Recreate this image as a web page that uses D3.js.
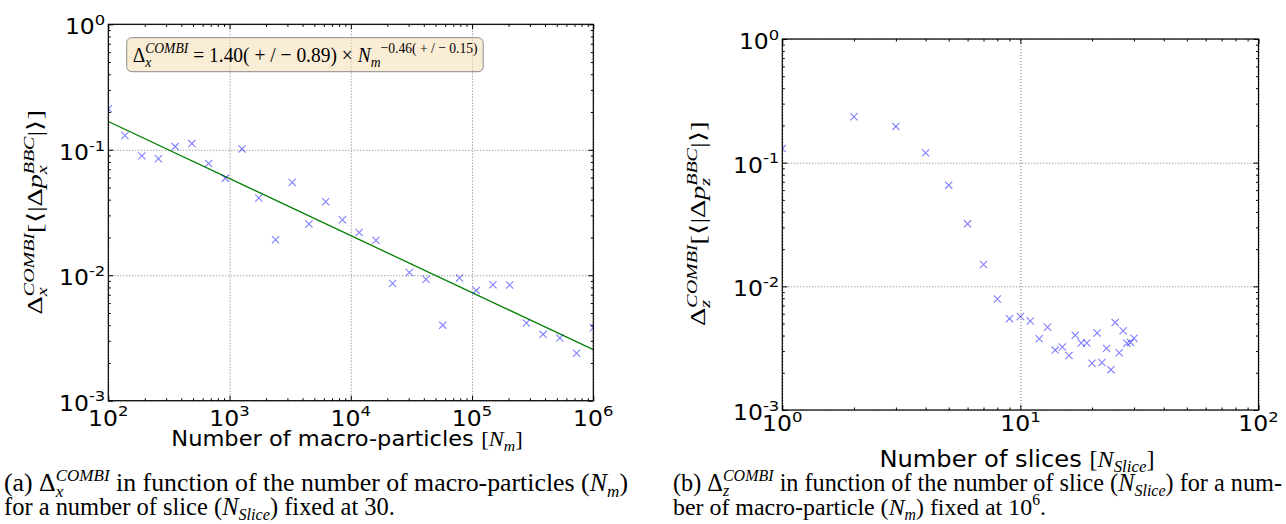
<!DOCTYPE html>
<html>
<head>
<meta charset="utf-8">
<script src="https://cdn.jsdelivr.net/npm/d3@7/dist/d3.min.js"></script>
<style>
  body { margin: 0; background: #fff; }
  svg { display: block; }
  text { white-space: pre; }
</style>
</head>
<body>
<div id="fig"></div>
<script>
(function () {
    // panel (a): error vs number of macro-particles (N_slice = 30)
    const nMacro = [100, 137, 189, 259, 356, 489, 672, 924, 1269, 1743, 2395, 3290, 4520, 6210, 8531,
        11720, 16102, 22121, 30390, 41751, 57358, 78800, 108258, 148727, 204324, 280706, 385642,
        529807, 727864, 1000000];
    const deltaX = [0.212, 0.130, 0.0894, 0.0847, 0.106, 0.112, 0.0777, 0.0594, 0.1016, 0.0412,
        0.0192, 0.0548, 0.0256, 0.0385, 0.0277, 0.0219, 0.0190, 0.0086, 0.0105, 0.0093,
        0.0040, 0.0095, 0.00757, 0.00839, 0.00835, 0.00416, 0.00338, 0.00316, 0.00239, 0.00382];
    // green fit line, end points
    const fitN = [100, 1000000];
    const fitDelta = [0.168, 0.00255];

    // panel (b): error vs number of slices (N_m = 1e6)
    const nSlice = [1, 2, 3, 4, 5, 6, 7, 8, 9, 10, 11, 12, 13, 14, 15, 16, 17, 18, 19, 20,
        21, 22, 23, 24, 25, 26, 27, 28, 29, 30];
    const deltaZ = [0.130, 0.235, 0.1965, 0.120, 0.0658, 0.0320, 0.0150, 0.00789, 0.00548, 0.00570,
        0.00525, 0.00377, 0.00467, 0.00305, 0.00323, 0.00276, 0.00402, 0.00348, 0.00348, 0.00239,
        0.00419, 0.00242, 0.00315, 0.00212, 0.00509, 0.00290, 0.00438, 0.00346, 0.00352, 0.00380];

    const xTicksA = [1e2, 1e3, 1e4, 1e5, 1e6];
    const xExpA = ['2', '3', '4', '5', '6'];
    const xTicksB = [1, 10, 100];
    const xExpB = ['0', '1', '2'];
    const yTicks = [1e-3, 1e-2, 1e-1, 1];
    const yExp = ['-3', '-2', '-1', '0'];

    const SANS = 'DejaVu Sans';
    const SERIF = 'Liberation Serif';

    const svg = d3.select('#fig')
        .append('svg')
            .attr('width', 1286)
            .attr('height', 524);

    // writes a run of text pieces with sub/superscripts, returns the width
    function richText(g, parts, fs, fam, scr) {
        let cx = 0;
        const put = (txt, x, y, size, it, f) => {
            const t = g.append('text')
                .attr('x', x)
                .attr('y', y)
                .style('font-family', f)
                .style('font-size', size + 'px')
                .style('font-style', it ? 'italic' : 'normal')
                .text(txt);
            return t.node().getComputedTextLength();
        };
        parts.forEach(p => {
            const f = p.fam || fam;
            if (p.t) cx += put(p.t, cx, 0, fs, p.it, f);
            let w = 0;
            if (p.sup) w = Math.max(w, put(p.sup, cx, -0.4 * fs, fs * scr, p.supIt !== false, f));
            if (p.sub) w = Math.max(w, put(p.sub, cx, 0.22 * fs, fs * scr, p.subIt !== false, f));
            cx += w;
        });
        return cx;
    }

    // o.width: fit to that width (o.stretch: only along the text direction)
    function placeText(parts, fs, fam, o) {
        const outer = svg.append('g');
        const inner = outer.append('g');
        const w = richText(inner, parts, fs, fam, o.scr || 0.7);
        let sx = o.sx || 1, sy = 1;
        if (o.width) {
            sx = o.width / w;
            sy = o.stretch ? 1 : sx;
        }
        const shift = o.anchor === 'middle' ? -w / 2 : 0;
        outer.attr('transform',
            `translate(${o.x},${o.y}) rotate(${o.rotate || 0}) scale(${sx},${sy}) translate(${shift},0)`);
    }

    function panel(cfg) {
        const g = svg.append('g');
        const x = d3.scaleLog().domain(cfg.xDomain).range([cfg.left, cfg.right]);
        const y = d3.scaleLog().domain([1e-3, 1]).range([cfg.bottom, cfg.top]);
        const w = cfg.right - cfg.left;
        const h = cfg.bottom - cfg.top;

        const isMajor = v => Math.abs(Math.log10(v) - Math.round(Math.log10(v))) < 1e-9;
        const xMinor = x.ticks().filter(v => !isMajor(v));
        const yMinor = y.ticks().filter(v => !isMajor(v));

        // dotted grid on the decades
        g.append('g')
            .attr('transform', `translate(0,${cfg.bottom})`)
            .call(d3.axisBottom(x).tickValues(cfg.xTicks).tickSize(-h).tickFormat(''))
            .call(a => a.select('.domain').remove());
        g.append('g')
            .attr('transform', `translate(${cfg.left},0)`)
            .call(d3.axisLeft(y).tickValues(yTicks).tickSize(-w).tickFormat(''))
            .call(a => a.select('.domain').remove());
        g.selectAll('.tick line')
            .style('stroke', '#7a7a7a')
            .style('stroke-width', 1)
            .style('stroke-dasharray', '1,2');

        // inward ticks on all four sides
        const tickSets = [
            [d3.axisBottom(x), `translate(0,${cfg.bottom})`, cfg.xTicks, xMinor],
            [d3.axisTop(x), `translate(0,${cfg.top})`, cfg.xTicks, xMinor],
            [d3.axisLeft(y), `translate(${cfg.left},0)`, yTicks, yMinor],
            [d3.axisRight(y), `translate(${cfg.right},0)`, yTicks, yMinor]
        ];
        tickSets.forEach(([ax, tr, major, minor]) => {
            [[major, -5], [minor, -2.5]].forEach(([vals, size]) => {
                g.append('g')
                    .attr('transform', tr)
                    .call(ax.tickValues(vals).tickSize(size).tickFormat(''))
                    .call(a => a.select('.domain').remove())
                    .selectAll('line')
                        .style('stroke', '#000')
                        .style('stroke-width', 1);
            });
        });

        const clipId = 'clip-' + cfg.id;
        svg.append('clipPath')
            .attr('id', clipId)
            .append('rect')
                .attr('x', cfg.left)
                .attr('y', cfg.top)
                .attr('width', w)
                .attr('height', h);

        const plot = g.append('g').attr('clip-path', `url(#${clipId})`);

        if (cfg.fitX) {
            plot.append('path')
                .datum(cfg.fitX.map((v, i) => [v, cfg.fitY[i]]))
                .attr('d', d3.line().x(d => x(d[0])).y(d => y(d[1])))
                .style('fill', 'none')
                .style('stroke', '#008000')
                .style('stroke-width', 1.3);
        }

        const s = 3.6;
        plot.selectAll('.mark')
            .data(cfg.xs.map((v, i) => [v, cfg.ys[i]]))
            .enter()
            .append('path')
                .attr('class', 'mark')
                .attr('transform', d => `translate(${x(d[0])},${y(d[1])})`)
                .attr('d', `M${-s},${-s}L${s},${s}M${-s},${s}L${s},${-s}`)
                .style('fill', 'none')
                .style('stroke', '#0000ff')
                .style('stroke-opacity', 0.5)
                .style('stroke-width', 1.1);

        g.append('rect')
            .attr('x', cfg.left)
            .attr('y', cfg.top)
            .attr('width', w)
            .attr('height', h)
            .style('fill', 'none')
            .style('stroke', '#000')
            .style('stroke-width', 1.2);

        // tick labels 10^k
        const tfs = 21;
        cfg.xTicks.forEach((v, i) => {
            const t = svg.append('text')
                .attr('transform', `translate(${x(v)},${cfg.bottom + cfg.xPad}) scale(1.12,1)`)
                .attr('text-anchor', 'middle')
                .style('font-family', SANS)
                .style('font-size', tfs + 'px');
            t.append('tspan').text('10');
            t.append('tspan').attr('dy', -0.44 * tfs).style('font-size', (tfs * 0.7) + 'px').text(cfg.xExp[i]);
        });
        yTicks.forEach((v, i) => {
            const t = svg.append('text')
                .attr('transform', `translate(${cfg.left - 3},${y(v) + 10}) scale(1.12,1)`)
                .attr('text-anchor', 'end')
                .style('font-family', SANS)
                .style('font-size', tfs + 'px');
            t.append('tspan').text('10');
            t.append('tspan').attr('dy', -0.44 * tfs).style('font-size', (tfs * 0.7) + 'px').text(yExp[i]);
        });
    }

    panel({
        id: 'a', left: 108.3, right: 593.3, top: 24.3, bottom: 400.7, xPad: 25,
        xDomain: [1e2, 1e6], xTicks: xTicksA, xExp: xExpA,
        xs: nMacro, ys: deltaX, fitX: fitN, fitY: fitDelta
    });
    panel({
        id: 'b', left: 782.3, right: 1258.5, top: 39, bottom: 410, xPad: 21,
        xDomain: [1, 100], xTicks: xTicksB, xExp: xExpB,
        xs: nSlice, ys: deltaZ
    });

    // fit annotation box
    svg.append('rect')
        .attr('x', 126.7)
        .attr('y', 37.7)
        .attr('width', 356.5)
        .attr('height', 34)
        .attr('rx', 5)
        .style('fill', '#f5deb3')
        .style('fill-opacity', 0.55)
        .style('stroke', '#8c8c8c')
        .style('stroke-width', 1);
    placeText([
        { t: 'Δ', sub: 'x', sup: 'COMBI' },
        { t: ' = 1.40( + / − 0.89) × ' },
        { t: 'N', it: true, sub: 'm' },
        { sup: '−0.46( + / − 0.15)', supIt: false }
    ], 22, SERIF, { x: 132.7, y: 62, width: 345, stretch: true });

    // y labels
    placeText([
        { t: 'Δ', sub: 'x', sup: 'COMBI' },
        { t: '[⟨|Δ' },
        { t: 'p', it: true, sub: 'x', sup: 'BBC' },
        { t: '|⟩]' }
    ], 21, SERIF, { x: 42, y: 212.5, rotate: -90, anchor: 'middle', width: 204, stretch: true });
    placeText([
        { t: 'Δ', sub: 'z', sup: 'COMBI' },
        { t: '[⟨|Δ' },
        { t: 'p', it: true, sub: 'z', sup: 'BBC' },
        { t: '|⟩]' }
    ], 21, SERIF, { x: 705, y: 224, rotate: -90, anchor: 'middle', width: 204, stretch: true });

    // x labels
    placeText([
        { t: 'Number of macro-particles ', fam: SANS },
        { t: '[' },
        { t: 'N', it: true, sub: 'm' },
        { t: ']' }
    ], 20.5, SERIF, { x: 347, y: 446, anchor: 'middle', sx: 1.1 });
    placeText([
        { t: 'Number of slices ', fam: SANS },
        { t: '[' },
        { t: 'N', it: true, sub: 'Slice' },
        { t: ']' }
    ], 23, SERIF, { x: 1017, y: 467, anchor: 'middle', sx: 1.05 });

    // captions
    placeText([
        { t: '(a) ' },
        { t: 'Δ', it: false, sub: 'x', sup: 'COMBI' },
        { t: ' in function of the number of macro-particles (' },
        { t: 'N', it: true, sub: 'm' },
        { t: ')' }
    ], 18, SERIF, { x: 4, y: 491, width: 624, scr: 0.66 });
    placeText([
        { t: 'for a number of slice (' },
        { t: 'N', it: true, sub: 'Slice' },
        { t: ') fixed at 30.' }
    ], 18, SERIF, { x: 4, y: 515, width: 391, scr: 0.66 });
    placeText([
        { t: '(b) ' },
        { t: 'Δ', sub: 'z', sup: 'COMBI' },
        { t: ' in function of the number of slice (' },
        { t: 'N', it: true, sub: 'Slice' },
        { t: ') for a num-' }
    ], 18, SERIF, { x: 673, y: 491, width: 609, scr: 0.66 });
    placeText([
        { t: 'ber of macro-particle (' },
        { t: 'N', it: true, sub: 'm' },
        { t: ') fixed at 10' },
        { sup: '6', supIt: false },
        { t: '.' }
    ], 18, SERIF, { x: 673, y: 515, width: 373, scr: 0.66 });
}());
</script>
</body>
</html>
